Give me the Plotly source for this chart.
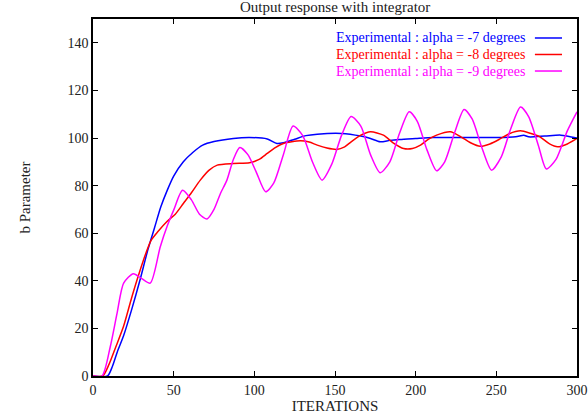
import plotly.graph_objects as go

# ---------------- data ----------------
names = ["Experimental : alpha = -7 degrees",
         "Experimental : alpha = -8 degrees",
         "Experimental : alpha = -9 degrees"]
colors = ["#0000ff", "#ff0000", "#ff00ff"]

x_a7 = [0, 9, 12, 15, 19, 24, 29, 34, 38, 42, 46, 50, 56, 62, 68, 75, 87, 97, 108, 114, 118, 125,
        132, 139, 154, 166, 172, 178, 184, 190, 200, 211, 229, 248, 262, 267, 270, 280, 290, 300]
y_a7 = [0, 0, 4, 10, 17, 28, 40, 53, 62, 71, 78, 84, 90, 94, 97, 98.5, 99.8, 100.2, 99.6, 97.7, 98, 99.5,
        101, 101.6, 101.9, 100.8, 99.8, 98.4, 99, 99.4, 99.8, 100.2, 100.2, 100.2, 100.5, 101.2, 100.5, 100.8, 101.2, 100]

x_a8 = [0, 6, 10, 14, 19, 24, 29, 33, 36, 40, 46, 51, 56, 61, 66.5, 72, 77, 87, 97, 103, 108, 113, 118,
        128.5, 134, 139, 145, 151, 156, 160, 166, 172, 180, 186, 192.5, 198, 203, 208, 213, 221.5, 228,
        234, 240, 246, 252, 258, 265, 271, 277, 283, 288, 294, 300]
y_a8 = [0, 0, 5, 12, 21, 33, 44, 52, 57, 60.5, 65, 68, 72.5, 77, 82.3, 86.5, 88.6, 89.3, 89.6, 91, 93.5, 96, 97.7,
        98.8, 98.3, 97, 95.8, 95.2, 96.3, 98.4, 101.2, 102.6, 101.2, 98, 95.6, 95.6, 97, 99.5, 101.2, 102.6, 100.5,
        98, 96.5, 97.5, 99.5, 101.8, 103, 102, 100.5, 97.5, 96.3, 97.5, 99.8]

x_a9 = [0, 5.6, 10.7, 14.9, 19, 25, 30, 35.5, 41.7, 46, 50, 55.5, 61, 66, 70.7, 75, 79, 83, 87, 91, 96, 101,
        107, 112, 118, 124, 130, 136, 142, 148, 154, 160, 166, 172, 178, 184, 190, 196, 201, 207, 213,
        218, 224, 230, 235, 241, 247, 253, 259, 265, 270, 276, 281, 287, 294, 300]
y_a9 = [0, 0, 12.3, 26.3, 39, 43, 41, 39, 54.3, 63, 69.7, 78, 74, 68, 66, 70, 76.7, 82.3, 91, 96, 93, 86,
        77.4, 81, 93, 105, 101, 90, 82.3, 89, 101, 109, 105, 93, 85.4, 90, 102, 111, 107, 95, 86.2,
        90, 102, 112, 108, 96, 86.5, 92, 104, 113, 109, 97, 87, 91, 103, 111]

series_x = [x_a7, x_a8, x_a9]
series_y = [y_a7, y_a8, y_a9]

x_ticks = [0, 50, 100, 150, 200, 250, 300]
y_ticks = [0, 20, 40, 60, 80, 100, 120, 140]

# ---------------- figure ----------------
FONT = "Times New Roman, Liberation Serif, DejaVu Serif, serif"
TXT = "#222222"
fig = go.Figure()
for n, c, xs, ys in zip(names, colors, series_x, series_y):
    fig.add_trace(go.Scatter(x=xs, y=ys, mode="lines", name=n,
                             line=dict(color=c, width=1.5, shape="spline", smoothing=0.7),
                             showlegend=False))

axis_common = dict(showline=True, linecolor="black", linewidth=1.5, mirror="ticks",
                   ticks="inside", ticklen=5, tickwidth=1, tickcolor="black",
                   showgrid=False, zeroline=False, automargin=False,
                   tickfont=dict(family=FONT, size=14, color=TXT))

fig.update_layout(
    width=588, height=420,
    margin=dict(l=93, r=11, t=19, b=44),
    paper_bgcolor="white", plot_bgcolor="white",
    font=dict(family=FONT, size=15, color=TXT),
    title=dict(text="Output response with integrator", x=0.57, xanchor="center",
               y=0.984, yanchor="middle", font=dict(family=FONT, size=15, color=TXT)),
    xaxis=dict(range=[0, 300], tickvals=x_ticks,
               title=dict(text="ITERATIONS", standoff=1, font=dict(family=FONT, size=15, color=TXT)),
               **axis_common),
    yaxis=dict(range=[0, 150], tickvals=y_ticks,
               title=dict(text="b Parameter", standoff=33, font=dict(family=FONT, size=15, color=TXT)),
               **axis_common),
)

# legend drawn gnuplot-style: right-aligned text with line sample on its right
leg_y = [0.9468, 0.9006, 0.8543]
for n, c, yy in zip(names, colors, leg_y):
    fig.add_annotation(x=0.8926, y=yy, xref="paper", yref="paper", text=n, showarrow=False,
                       xanchor="right", yanchor="middle", xshift=2,
                       font=dict(family=FONT, size=14, color=c))
    fig.add_shape(type="line", xref="paper", yref="paper", x0=0.913, x1=0.969, y0=yy, y1=yy,
                  line=dict(color=c, width=1.5))

fig.write_html("out.html")
